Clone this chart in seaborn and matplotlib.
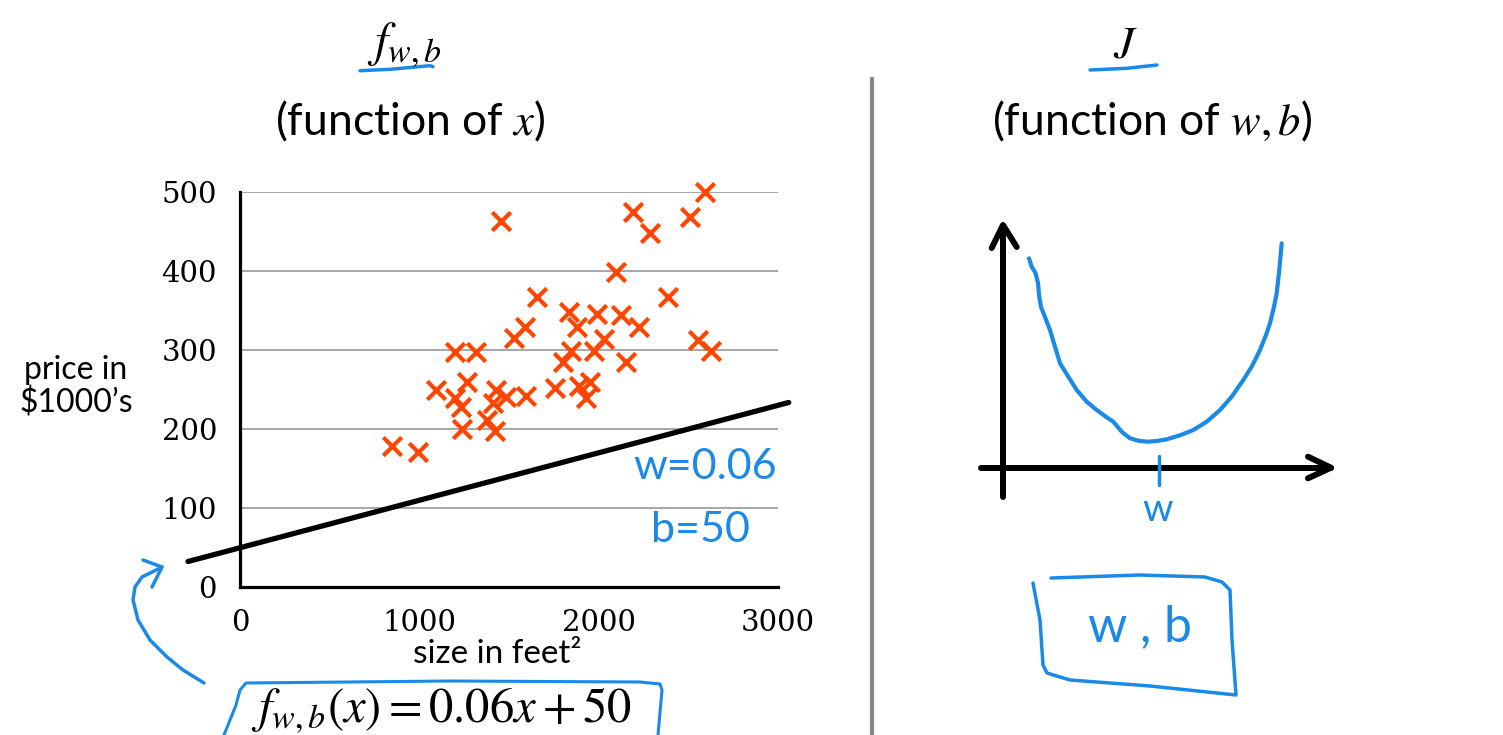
import numpy as np
import pandas as pd
import matplotlib
matplotlib.use("Agg")
import matplotlib.pyplot as plt
import seaborn as sns

# ---------------- data ----------------
size_sqft = [2593, 2193, 2509, 1454, 2286, 2097, 2388, 1658, 1835, 1989, 2123,
             1881, 2227, 1591, 1528, 2030, 2556, 2625, 1199, 1316, 1847, 1974,
             1803, 2152, 1264, 1093, 1757, 1952, 1889, 1199, 1428, 1483, 1595,
             1412, 1232, 1928, 1376, 1236, 1422, 846, 994]
price_k = [499, 474, 468, 463, 448, 399, 367, 367, 348, 346, 344,
           329, 329, 329, 315, 314, 313, 299, 298, 298, 299, 299,
           285, 285, 260, 249, 252, 259, 254, 239, 249, 241, 242,
           233, 228, 239, 211, 200, 198, 179, 171]
w_param = 0.06
b_param = 50
line_x = [-290, 3060]

x_ticks = [0, 1000, 2000, 3000]
y_ticks = [0, 100, 200, 300, 400, 500]

# hand-drawn sketch of cost J(w) on the right (figure pixel coordinates)
cost_w = [1029, 1031.7, 1035.5, 1038, 1039, 1041, 1045, 1050, 1055, 1060,
          1068.3, 1076.7, 1086.7, 1096.7, 1106.7, 1113.3, 1121.7, 1130, 1138.3,
          1146.7, 1156.7, 1166.7, 1180, 1193.3, 1206.7, 1220, 1231.7, 1243.3,
          1251.7, 1260, 1266, 1270, 1274, 1276.7, 1279.3, 1281.7]
cost_J = [258.3, 266.7, 273, 283, 295, 307, 317, 330, 346.7, 363.3,
          376.7, 390, 401.7, 410, 417.3, 421.7, 431.7, 438.3, 440.7,
          441.7, 441, 439.3, 435.3, 430, 421.7, 410, 396.7, 380,
          366.7, 350, 335, 323.3, 306.7, 293.3, 270, 243.3]

W, H = 1503, 735
BLUE = "#1a8ae6"
ORANGE = "#ff4500"

sns.set_theme(style="white")
plt.rcParams["font.family"] = ["Lato", "DejaVu Sans"]
plt.rcParams["mathtext.fontset"] = "stix"
plt.rcParams["text.color"] = "black"
plt.rcParams["xtick.color"] = "black"
plt.rcParams["ytick.color"] = "black"

fig = plt.figure(figsize=(W / 100, H / 100), dpi=100)
fig.patch.set_facecolor("white")

def fx(px):
    return px / W

def fy(py):
    return 1 - py / H

# ---------------- left axes ----------------
ax = fig.add_axes([fx(240), fy(587.3), fx(778) - fx(240), fy(191.7) - fy(587.3)])
df = pd.DataFrame({"size": size_sqft, "price": price_k})
ax.set_xlim(0, 3000)
ax.set_ylim(0, 500)
for yv in y_ticks[1:]:
    ax.axhline(yv, color="#a0a0a0", lw=1.3, zorder=0)
sns.scatterplot(data=df, x="size", y="price", marker="x", color=ORANGE,
                s=175, linewidth=3.0, ax=ax, zorder=3)
ax.collections[-1].set_clip_on(False)
lx = np.array(line_x, dtype=float)
sns.lineplot(x=lx, y=w_param * lx + b_param, color="black", lw=3.8, ax=ax,
             zorder=4)
ax.lines[-1].set_clip_on(False)
ax.set_xticks(x_ticks)
ax.set_yticks(y_ticks)
ax.set_xticklabels([str(v) for v in x_ticks], family="DejaVu Serif", fontsize=21)
ax.set_yticklabels([str(v) for v in y_ticks], family="DejaVu Serif", fontsize=21)
ax.tick_params(axis="both", direction="out", length=6.5, width=2.2, color="black",
               labelcolor="black")
ax.tick_params(axis="y", pad=10)
ax.tick_params(axis="x", pad=9)
for s in ["top", "right"]:
    ax.spines[s].set_visible(False)
for s in ["left", "bottom"]:
    ax.spines[s].set_color("black")
    ax.spines[s].set_linewidth(2.3)
ax.set_xlabel("")
ax.set_ylabel("")
ax.grid(False)

fig.text(fx(76), fy(387), "price in\n$1000\u2019s", ha="center", va="center",
         fontsize=23, linespacing=1.1)
fig.text(fx(497), fy(654), "size in feet\u00b2", ha="center", va="center",
         fontsize=24)

# titles
fig.text(fx(404), fy(45), r"$f_{w,b}$", ha="center", va="center", fontsize=35)
fig.text(fx(410), fy(121), r"(function of $x$)", ha="center", va="center",
         fontsize=32)
fig.text(fx(1125), fy(45), r"$J$", ha="center", va="center", fontsize=33)
fig.text(fx(1152), fy(121), r"(function of $w, b$)", ha="center", va="center",
         fontsize=32)
fig.text(fx(441), fy(711), r"$f_{w,b}(x) = 0.06x + 50$", ha="center",
         va="center", fontsize=35)

# ---------------- overlay for sketches ----------------
ov = fig.add_axes([0, 0, 1, 1])
ov.set_xlim(0, W)
ov.set_ylim(H, 0)
ov.axis("off")
ov.patch.set_alpha(0)

# divider
ov.plot([872, 872], [77, 735], color="#888888", lw=3, solid_capstyle="butt")

# underlines
ov.plot([360, 390, 430, 433], [70.7, 69.3, 65.7, 66.7], color=BLUE, lw=2.5,
        solid_capstyle="round")
ov.plot([1090, 1127, 1157], [70, 68.3, 65], color=BLUE, lw=2.5,
        solid_capstyle="round")

# handwritten parameter notes
ov.text(705, 467, "w=0.06", color=BLUE, fontsize=31, ha="center", va="center")
ov.text(700, 530, "b=50", color=BLUE, fontsize=31, ha="center", va="center")

# formula box and curved arrow
ov.plot([224, 236, 240, 246, 450, 640, 660, 662, 658],
        [735, 705, 690, 683, 681, 682, 684, 690, 735], color=BLUE, lw=2.2,
        solid_joinstyle="round")
ov.plot([204, 183, 167, 150, 138, 133, 135, 142, 152, 162],
        [683, 670, 657, 640, 620, 600, 587, 577, 572, 567], color=BLUE, lw=2.5,
        solid_capstyle="round", solid_joinstyle="round")
ov.plot([143, 162, 152], [560, 567, 587], color=BLUE, lw=2.5,
        solid_capstyle="round", solid_joinstyle="round")

# right sketch axes
ov.plot([1003, 1003], [497, 226], color="black", lw=4.3, solid_capstyle="round")
ov.plot([991.7, 1003, 1016.7], [248, 225, 247], color="black", lw=4.3,
        solid_capstyle="round", solid_joinstyle="round")
ov.plot([981, 1331], [467.7, 467.7], color="black", lw=4.3,
        solid_capstyle="round")
ov.plot([1308, 1331, 1308], [456.7, 467.7, 478.3], color="black", lw=4.3,
        solid_capstyle="round", solid_joinstyle="round")
sns.lineplot(x=cost_w, y=cost_J, sort=False, color=BLUE, lw=3, ax=ov)
ov.lines[-1].set_solid_joinstyle("round")
ov.lines[-1].set_solid_capstyle("round")
ov.plot([1159, 1159], [456, 485], color=BLUE, lw=2.5)
ov.text(1158, 510, "w", color=BLUE, fontsize=28, ha="center", va="center")
ov.set_xlim(0, W)
ov.set_ylim(H, 0)
ov.set_xlabel("")
ov.set_ylabel("")

# w, b box
ov.plot([1051, 1140, 1205, 1222, 1230, 1232, 1236, 1150, 1070, 1047, 1043,
         1040, 1033],
        [578, 575, 577, 582, 590, 640, 695, 686, 680, 673, 665, 620, 583],
        color=BLUE, lw=2.5, solid_joinstyle="round")
ov.text(1140, 627, "w , b", color=BLUE, fontsize=36, ha="center", va="center")

fig.savefig("out.png", dpi=100, facecolor="white")
